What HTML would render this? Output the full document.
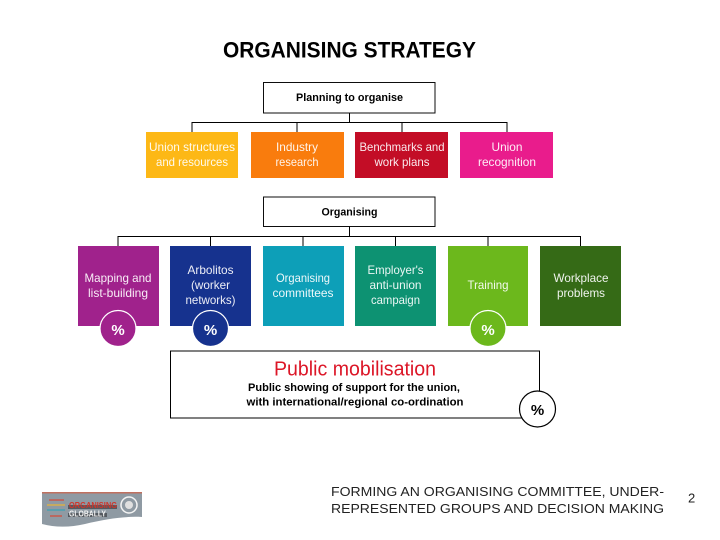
<!DOCTYPE html>
<html>
<head>
<meta charset="utf-8">
<style>
html,body{margin:0;padding:0;background:#fff;width:720px;height:540px;overflow:hidden}
svg{display:block}
text{font-family:"Liberation Sans",sans-serif}
.w{fill:#fff;fill-opacity:.92;font-size:12px;text-anchor:middle}
.p{fill:#fff;font-size:15px;font-weight:bold;text-anchor:middle}
</style>
</head>
<body>
<svg width="720" height="540" viewBox="0 0 720 540" xmlns="http://www.w3.org/2000/svg">
<defs><filter id="b" x="-5%" y="-5%" width="110%" height="110%"><feGaussianBlur stdDeviation="0.22"/></filter></defs>
<g filter="url(#b)">
<text x="349.5" y="57.500" font-size="22" font-weight="bold" fill="#000" text-anchor="middle" textLength="253" lengthAdjust="spacingAndGlyphs">ORGANISING STRATEGY</text>

<rect x="263.5" y="82.5" width="171.5" height="30.5" fill="#fff" stroke="#111" stroke-width="1"/>
<text x="349.5" y="101" font-size="11" font-weight="bold" fill="#000" text-anchor="middle" textLength="107" lengthAdjust="spacingAndGlyphs">Planning to organise</text>
<path d="M349.5 113V122.5M192 132V122.5H507V132M297 122.5V132M402 122.5V132" fill="none" stroke="#000" stroke-width="1"/>

<rect x="146" y="132" width="92" height="46" fill="#fdb813"/>
<rect x="251" y="132" width="93" height="46" fill="#f97b0d"/>
<rect x="355" y="132" width="93" height="46" fill="#c30a26"/>
<rect x="460" y="132" width="93" height="46" fill="#e91e8c"/>
<text class="w" x="192" y="151" textLength="86" lengthAdjust="spacingAndGlyphs">Union structures</text>
<text class="w" x="192" y="166" textLength="72" lengthAdjust="spacingAndGlyphs">and resources</text>
<text class="w" x="297" y="151" textLength="42" lengthAdjust="spacingAndGlyphs">Industry</text>
<text class="w" x="297" y="166" textLength="43" lengthAdjust="spacingAndGlyphs">research</text>
<text class="w" x="402" y="151" textLength="85" lengthAdjust="spacingAndGlyphs">Benchmarks and</text>
<text class="w" x="402" y="166" textLength="55" lengthAdjust="spacingAndGlyphs">work plans</text>
<text class="w" x="507" y="151" textLength="31" lengthAdjust="spacingAndGlyphs">Union</text>
<text class="w" x="507" y="166" textLength="58" lengthAdjust="spacingAndGlyphs">recognition</text>

<rect x="263.5" y="197" width="171.5" height="29.5" fill="#fff" stroke="#111" stroke-width="1"/>
<text x="349.5" y="215.5" font-size="11" font-weight="bold" fill="#000" text-anchor="middle" textLength="56" lengthAdjust="spacingAndGlyphs">Organising</text>
<path d="M349.5 226.5V236.5M118 246V236.5H580.5V246M210.5 236.5V246M303 236.5V246M395.5 236.5V246M488 236.5V246" fill="none" stroke="#000" stroke-width="1"/>

<rect x="78" y="246" width="81" height="80" fill="#a0228c"/>
<rect x="170" y="246" width="81" height="80" fill="#16308e"/>
<rect x="263" y="246" width="81" height="80" fill="#0f9fb8"/>
<rect x="355" y="246" width="81" height="80" fill="#0a9272"/>
<rect x="448" y="246" width="80" height="80" fill="#6cb81f"/>
<rect x="540" y="246" width="81" height="80" fill="#366a18"/>

<text class="w" x="118" y="282" textLength="67" lengthAdjust="spacingAndGlyphs">Mapping and</text>
<text class="w" x="118" y="297" textLength="60" lengthAdjust="spacingAndGlyphs">list-building</text>
<text class="w" x="210.5" y="274" textLength="46" lengthAdjust="spacingAndGlyphs">Arbolitos</text>
<text class="w" x="210.5" y="289" textLength="39" lengthAdjust="spacingAndGlyphs">(worker</text>
<text class="w" x="210.5" y="304" textLength="50" lengthAdjust="spacingAndGlyphs">networks)</text>
<text class="w" x="303" y="282" textLength="54" lengthAdjust="spacingAndGlyphs">Organising</text>
<text class="w" x="303" y="297" textLength="61" lengthAdjust="spacingAndGlyphs">committees</text>
<text class="w" x="395.5" y="274" textLength="56" lengthAdjust="spacingAndGlyphs">Employer's</text>
<text class="w" x="395.5" y="289" textLength="52" lengthAdjust="spacingAndGlyphs">anti-union</text>
<text class="w" x="395.5" y="304" textLength="49" lengthAdjust="spacingAndGlyphs">campaign</text>
<text class="w" x="488" y="289" textLength="41" lengthAdjust="spacingAndGlyphs">Training</text>
<text class="w" x="581" y="282" textLength="55" lengthAdjust="spacingAndGlyphs">Workplace</text>
<text class="w" x="581" y="297" textLength="48" lengthAdjust="spacingAndGlyphs">problems</text>

<circle cx="118" cy="328.500" r="18" fill="#a0228c" stroke="#fff" stroke-width="1.200"/>
<text class="p" x="118" y="335">%</text>
<circle cx="210.5" cy="328.500" r="18" fill="#16308e" stroke="#fff" stroke-width="1.200"/>
<text class="p" x="210.5" y="335">%</text>
<circle cx="488" cy="328.500" r="18" fill="#6cb81f" stroke="#fff" stroke-width="1.200"/>
<text class="p" x="488" y="335">%</text>

<rect x="170.5" y="351" width="369" height="67" fill="#fff" stroke="#000" stroke-width="1"/>
<text x="355" y="375.500" font-size="20" fill="#dc1428" text-anchor="middle" textLength="162" lengthAdjust="spacingAndGlyphs">Public mobilisation</text>
<text x="354" y="391" font-size="11" font-weight="bold" fill="#000" text-anchor="middle" textLength="212" lengthAdjust="spacingAndGlyphs">Public showing of support for the union,</text>
<text x="355" y="405.500" font-size="11" font-weight="bold" fill="#000" text-anchor="middle" textLength="217" lengthAdjust="spacingAndGlyphs">with international/regional co-ordination</text>
<circle cx="537.500" cy="409" r="18" fill="#fff" stroke="#000" stroke-width="1.200"/>
<text x="537.500" y="415" font-size="15" font-weight="bold" fill="#000" text-anchor="middle">%</text>

<path d="M42 492H142V517C125 516 105 519 85 524C70 527.500 55 527.500 42 524Z" fill="#8f9aa3"/>
<rect x="42" y="492" width="100" height="1.500" fill="#c0705f"/>
<path d="M49 500H64" stroke="#c8584a" stroke-width="1.500"/>
<path d="M47 505H65" stroke="#d8b04a" stroke-width="1.500"/>
<path d="M47 510H65" stroke="#4aa0b0" stroke-width="1.500"/>
<path d="M50 516H62" stroke="#c8584a" stroke-width="1.500"/>
<rect x="68" y="505" width="49" height="4" fill="#555a60"/>
<rect x="68" y="513" width="39" height="4" fill="#555a60"/>
<text x="69" y="508" font-size="8.500" font-weight="bold" fill="#d0342a" textLength="48" lengthAdjust="spacingAndGlyphs">ORGANISING</text>
<text x="69" y="516.500" font-size="8.500" font-weight="bold" fill="#f2f2f2" textLength="37" lengthAdjust="spacingAndGlyphs">GLOBALLY</text>
<circle cx="129" cy="505" r="8" fill="none" stroke="#f4f4f4" stroke-width="1.500"/>
<circle cx="129" cy="505" r="4" fill="#e0e0e0"/>
</g>

<text x="331" y="496" font-size="13" fill="#222" textLength="333" lengthAdjust="spacingAndGlyphs">FORMING AN ORGANISING COMMITTEE, UNDER-</text>
<text x="331" y="513" font-size="13" fill="#222" textLength="333" lengthAdjust="spacingAndGlyphs">REPRESENTED GROUPS AND DECISION MAKING</text>
<text x="688" y="502.500" font-size="13" fill="#222">2</text>
</svg>
</body>
</html>
